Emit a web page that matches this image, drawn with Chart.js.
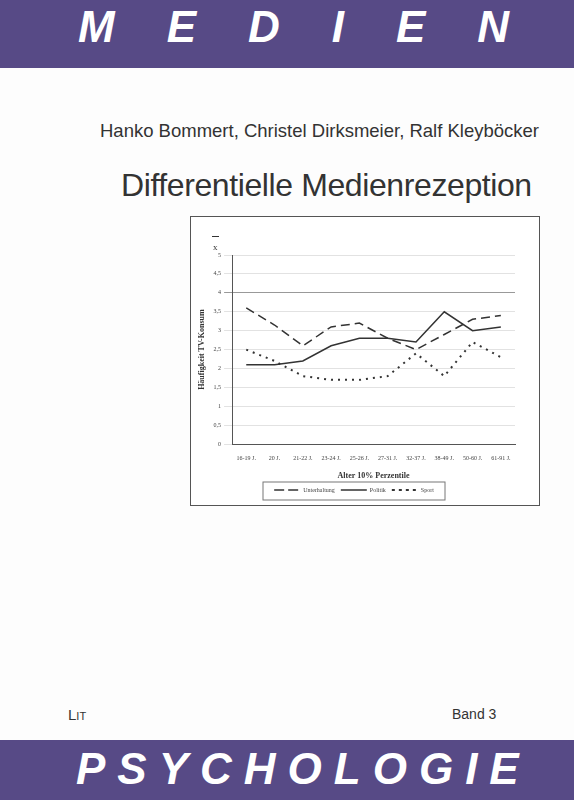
<!DOCTYPE html>
<html><head><meta charset="utf-8">
<script src="https://cdn.jsdelivr.net/npm/chart.js@4"></script>
<style>
body{margin:0;width:574px;height:800px;background:#fdfdfd;position:relative;overflow:hidden;font-family:"Liberation Sans",Arial,sans-serif}
.band{position:absolute;left:0;width:574px;background:#574a86;color:#fff;font-weight:bold;font-style:italic;font-size:44px}
#top{top:0;height:68px}
#bot{top:740px;height:60px}
.t{position:absolute;white-space:nowrap}
#box{position:absolute;left:190px;top:216px;width:348px;height:288px;border:1.5px solid #555;background:#fff}
</style></head><body>
<div class="band" id="top"><span class="t" style="left:78px;top:2px;letter-spacing:52px">MEDIEN</span></div>
<div class="t" style="left:100px;top:120px;font-size:18.5px;color:#333">Hanko Bommert, Christel Dirksmeier, Ralf Kleyböcker</div>
<div class="t" style="left:121px;top:167px;font-size:32px;color:#333;letter-spacing:-0.4px">Differentielle Medienrezeption</div>
<div id="box"><canvas id="c" width="348" height="288"></canvas></div>
<div class="t" style="left:68px;top:706px;font-size:15px;color:#333">L<span style="font-size:11px">IT</span></div>
<div class="t" style="left:452px;top:706px;font-size:14px;color:#333">Band 3</div>
<div class="band" id="bot"><span class="t" style="left:76px;top:4px;letter-spacing:12px">PSYCHOLOGIE</span></div>
<script>
const categories=["16-19 J.","20 J.","21-22 J.","23-24 J.","25-26 J.","27-31 J.","32-37 J.","38-49 J.","50-60 J.","61-91 J."];
const unterhaltung=[3.6,3.15,2.6,3.1,3.2,2.8,2.5,2.9,3.3,3.4];
const politik=[2.1,2.1,2.2,2.6,2.8,2.8,2.7,3.5,3.0,3.1];
const sport=[2.5,2.2,1.8,1.7,1.7,1.8,2.4,1.8,2.7,2.3];
const ff="Liberation Serif";
const xbar={id:'xbar',afterDraw(ch){const c=ch.ctx;c.save();c.fillStyle='#333';c.font='9px '+ff;c.fillText('x',22,31);c.fillRect(21,19,7,1);
const lg=ch.legend;c.strokeStyle='#777';c.lineWidth=1;c.strokeRect(lg.left+70,lg.top+1,lg.width-140,lg.height-4);c.restore();}};
new Chart(document.getElementById('c'),{type:'line',
data:{labels:categories,datasets:[
{label:'Unterhaltung',data:unterhaltung,borderColor:'#333',borderWidth:1.5,borderDash:[9,5],pointRadius:0,fill:false},
{label:'Politik',data:politik,borderColor:'#333',borderWidth:1.5,pointRadius:0,fill:false},
{label:'Sport',data:sport,borderColor:'#333',borderWidth:2,borderDash:[2,5],pointRadius:0,fill:false}]},
options:{responsive:false,animation:false,layout:{padding:{top:38,right:24,left:2,bottom:2}},
plugins:{tooltip:{enabled:false},legend:{position:'bottom',labels:{boxWidth:26,boxHeight:0,font:{family:ff,size:6},color:'#444',padding:6}}},
scales:{x:{offset:true,grid:{display:false},border:{color:'#555'},ticks:{font:{family:ff,size:6},color:'#444',maxRotation:0,autoSkip:false},
title:{display:true,text:'Alter 10% Perzentile',font:{family:ff,size:8,weight:'bold'},color:'#333',padding:{top:6,bottom:0}}},
y:{min:0,max:5,border:{color:'#555'},ticks:{stepSize:0.5,font:{family:ff,size:6},color:'#444',callback:v=>String(v).replace('.',',')},
grid:{color:c=>c.tick&&c.tick.value===4?'#999':'#e2e2e2'},
title:{display:true,text:'Häufigkeit TV-Konsum',font:{family:ff,size:8,weight:'bold'},color:'#333'}}}},
plugins:[xbar]});
</script>
</body></html>
